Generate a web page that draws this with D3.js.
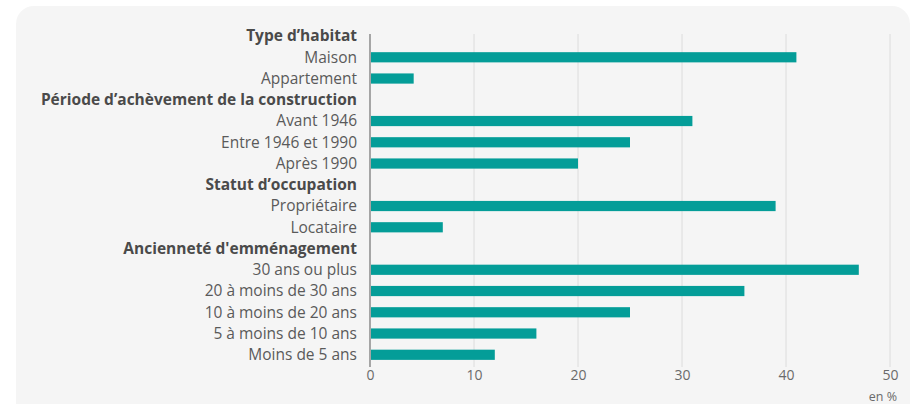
<!DOCTYPE html>
<html><head><meta charset="utf-8">
<script src="https://cdn.jsdelivr.net/npm/d3@7"></script>
<style>
html,body{margin:0;padding:0;background:#fff;}
svg{display:block;font-family:"Open Sans",sans-serif;}
</style></head>
<body><svg id="c" width="917" height="404"></svg>
<script>
const labels = ["Type d\u2019habitat","Maison","Appartement","Période d\u2019achèvement de la construction","Avant 1946","Entre 1946 et 1990","Après 1990","Statut d\u2019occupation","Propriétaire","Locataire","Ancienneté d'emménagement","30 ans ou plus","20 à moins de 30 ans","10 à moins de 20 ans","5 à moins de 10 ans","Moins de 5 ans"];
const isHeader = [true,false,false,true,false,false,false,true,false,false,true,false,false,false,false,false];
const values = [null,41,4.2,null,31,25,20,null,39,7,null,47,36,25,16,12];
const ticks = [0,10,20,30,40,50];

const svg = d3.select("#c");
svg.append("rect").attr("x",16).attr("y",6).attr("width",894).attr("height",420).attr("rx",18).attr("fill","#f5f5f5");

const x = d3.scaleLinear().domain([0,50]).range([370,890]);
const y = d3.scaleBand().domain(d3.range(labels.length)).range([25.4,365.4]).paddingInner(0.52).paddingOuter(0.26);

// gridlines
svg.append("g").selectAll("line").data(ticks.slice(1)).join("line")
  .attr("x1",d=>x(d)).attr("x2",d=>x(d)).attr("y1",34).attr("y2",367)
  .attr("stroke","#dcdcdc").attr("stroke-width",1);

// bars
const rows = labels.map((l,i)=>({l,i,v:values[i],h:isHeader[i]}));
svg.append("g").selectAll("rect").data(rows.filter(r=>r.v!=null)).join("rect")
  .attr("x",x(0)+1).attr("y",d=>y(d.i)).attr("height",y.bandwidth())
  .attr("width",d=>x(d.v)-x(0)-1).attr("fill","#049d98");

// axis line
svg.append("line").attr("x1",370).attr("x2",370).attr("y1",34).attr("y2",367)
  .attr("stroke","#7a7a7a").attr("stroke-width",1.3);

// labels
svg.append("g").selectAll("text").data(rows).join("text")
  .attr("x",357).attr("y",d=>y(d.i)+y.bandwidth()/2).attr("dy","0.35em")
  .attr("text-anchor","end").attr("font-size",15.5)
  .attr("font-weight",d=>d.h?700:400)
  .attr("fill",d=>d.h?"#4a4a4a":"#5a5a5a")
  .text(d=>d.l);

// x axis
const ax = svg.append("g").attr("transform","translate(0,367)")
  .call(d3.axisBottom(x).tickValues(ticks).tickSize(0).tickPadding(3));
ax.select(".domain").remove();
ax.selectAll("text").attr("font-size",14).attr("fill","#6a6a6a").attr("font-family","Open Sans, sans-serif");

svg.append("text").attr("x",897).attr("y",400.5).attr("text-anchor","end")
  .attr("font-size",12.5).attr("fill","#6a6a6a").text("en %");
</script>
</body></html>
